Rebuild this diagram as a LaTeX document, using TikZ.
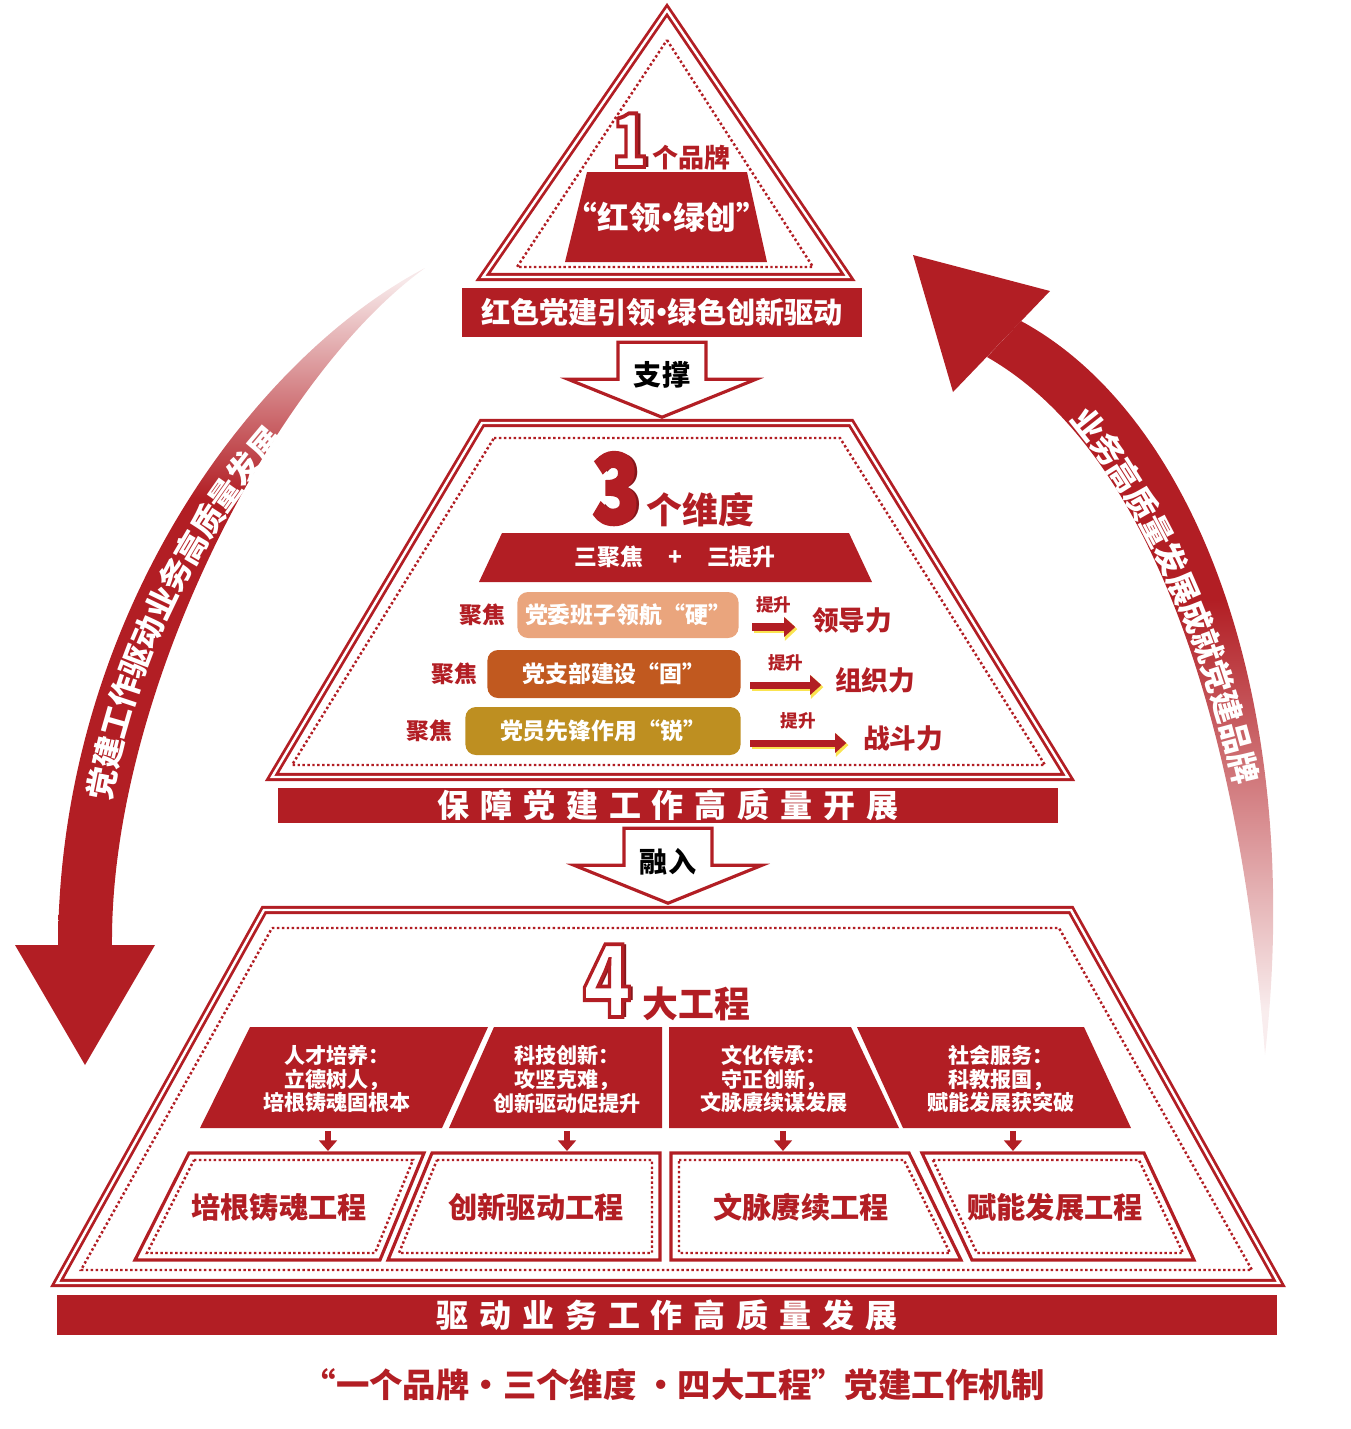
\documentclass[tikz,border=0pt]{standalone}
\usepackage{fontspec}
\setmainfont{Noto Sans CJK SC}
\usetikzlibrary{positioning, calc, arrows.meta, decorations.text}

\definecolor{cred}{RGB}{178,30,36}
\definecolor{peach}{RGB}{234,165,125}
\definecolor{rust}{RGB}{193,89,31}
\definecolor{gold}{RGB}{190,143,33}
\definecolor{glow}{RGB}{250,228,80}

\pgfdeclareverticalshading{fadedown}{100bp}{color(0bp)=(cred); color(58bp)=(cred); color(74bp)=(cred!10); color(100bp)=(cred!10)}
\pgfdeclareverticalshading{fadeup}{100bp}{color(0bp)=(cred!6); color(28bp)=(cred!8); color(56bp)=(cred); color(100bp)=(cred)}

% outlined glyph (fill + red stroke)
\newcommand{\outl}[1]{\special{pdf:literal direct 2 Tr 1.1 w 0.698 0.118 0.141 RG}#1\special{pdf:literal direct 0 Tr 0.398 w}}
% big numeral with a red extrusion: name, base point, digit, size, fill colour
\newcommand{\bignum}[5]{%
  \node[anchor=base, font=\bfseries\fontsize{#4}{#4}\selectfont] (#1) at #2
    {\scalebox{0.8}[1]{\rlap{\kern1.5pt\textcolor{cred!75!black}{#3}}\rlap{\kern0.8pt\textcolor{cred!75!black}{#3}}\textcolor{#5}{\outl{#3}}}};
}
\newcommand{\dotc}{\kern-0.3em·\kern-0.3em}

\begin{document}
\begin{tikzpicture}[x=0.01cm, y=-0.01cm,
  every node/.style={inner sep=0pt, font=\bfseries},
  frameline/.style={draw=cred, double=white, double distance=0.7pt, line width=0.8pt, line join=miter},
  dotline/.style={draw=cred, line width=0.7pt, dash pattern=on 0.7pt off 0.7pt},
  banner/.style={fill=cred, text=white, font=\bfseries\fontsize{8.3}{9}\selectfont},
  spaced/.style={font=\bfseries\fontsize{9.1}{10}\selectfont\addfontfeature{LetterSpace=34}},
  focusbox/.style={rounded corners=3pt, text=white, font=\bfseries\fontsize{6.5}{7}\selectfont, minimum height=0.46cm},
  redtxt/.style={text=cred, font=\bfseries\fontsize{6.5}{7}\selectfont},
  resulttxt/.style={text=cred, font=\bfseries\fontsize{7.6}{8}\selectfont},
  lifttxt/.style={text=cred, font=\bfseries\fontsize{5}{5}\selectfont},
  headtxt/.style={text=cred, font=\bfseries\fontsize{10.2}{11}\selectfont},
  projtxt/.style={text=white, align=center, font=\bfseries\fontsize{6}{6.8}\selectfont},
  worktxt/.style={text=cred, font=\bfseries\fontsize{8.3}{9}\selectfont},
  liftarrow/.style={draw=cred, line width=2pt, -{Triangle[length=3.2pt, width=5.5pt]},
    preaction={draw=glow, line width=2.4pt, transform canvas={shift={(0.6pt,-0.6pt)}}, -{Triangle[length=3.6pt, width=6.5pt]}}},
  droparrow/.style={draw=cred, line width=1.8pt, -{Triangle[length=3pt, width=5pt]}},
  pics/downblock/.style={code={
    \draw[draw=cred, fill=white, line width=0.9pt, line join=miter]
      (-44,5) -- (-44,42) -- (-94,42) -- (0,80) -- (94,42) -- (44,42) -- (44,5) -- cycle;}}]

\useasboundingbox (0,0) rectangle (1350,1429);

% side arcs
\shade[shading=fadedown] (425,268) .. controls (250,360) and (60,620) .. (58,945) -- (112,945) .. controls (110,700) and (270,380) .. (425,268) -- cycle;
\fill[cred] (15,945) -- (155,945) -- (85,1065) -- cycle;
\path[decorate, decoration={text along path, text align=center, raise=-3.2pt, text color=white,
  text={|\bfseries\fontsize{9}{9}\selectfont|党建工作驱动业务高质量发展}}]
  (92,850) .. controls (110,680) and (185,520) .. (310,395);

\shade[shading=fadeup] (1021,321) .. controls (1195,415) and (1305,700) .. (1265,1055) .. controls (1240,720) and (1150,450) .. (987,357) -- cycle;
\fill[cred] (913,255) -- (1050,291) -- (953,392) -- cycle;
\path[decorate, decoration={text along path, text align=center, raise=-3.2pt, text color=white,
  text={|\bfseries\fontsize{9}{9}\selectfont|业务高质量发展成就党建品牌}}]
  (1030,365) .. controls (1115,430) and (1220,610) .. (1260,850);

% 1 brand
\draw[frameline] (667,10) -- (848,277) -- (483,277) -- cycle;
\draw[dotline] (667,40) -- (813,267) -- (517,267) -- cycle;
\fill[cred] (587,172) -- (747,172) -- (767,262) -- (565,262) -- cycle;
\node[text=white, font=\bfseries\fontsize{9}{9}\selectfont] (brand) at (667,217) {“红领\dotc 绿创”};
\bignum{one}{(630,167)}{1}{21}{white}
\node[anchor=base west, text=cred, font=\bfseries\fontsize{7.4}{8}\selectfont] (brandhead) at ($(one.base east)+(3,0)$) {个品牌};
\node[banner, minimum width=4cm, minimum height=0.49cm] (ban1) at (662,312) {红色党建引领\dotc 绿色创新驱动};

\pic at (ban1.south) {downblock};
\node[font=\bfseries\fontsize{8}{8}\selectfont] (support) at ($(ban1.south)+(0,38)$) {支撑};

% 3 dimensions
\draw[frameline] (482,423) -- (851,423) -- (1068,777) -- (272,777) -- cycle;
\draw[dotline] (494,438) -- (840,438) -- (1045,765) -- (292,765) -- cycle;
\bignum{three}{(616,523)}{3}{27}{cred}
\node[headtxt, anchor=base west] (dimhead) at ($(three.base east)+(6,0)$) {个维度};
\fill[cred] (502,533) -- (849,533) -- (872,582) -- (479,582) -- cycle;
\node[text=white, font=\bfseries\fontsize{6.5}{7}\selectfont] (focusbar) at (675,557) {三聚焦\hspace{1.1em}+\hspace{1.1em}三提升};

\node[focusbox, fill=peach, minimum width=2.21cm] (hard) at (628,615) {党委班子领航“硬”};
\node[focusbox, fill=rust, minimum width=2.53cm, minimum height=0.48cm] (firm) at (614,674) {党支部建设“固”};
\node[focusbox, fill=gold, minimum width=2.75cm, minimum height=0.48cm] (sharp) at (603,731) {党员先锋作用“锐”};
\node[redtxt, left=3pt of hard] (focus1) {聚焦};
\node[redtxt, left=2.6pt of firm] (focus2) {聚焦};
\node[redtxt, left=3.4pt of sharp] (focus3) {聚焦};
\node[resulttxt, right=0.72cm of hard, yshift=-1.4pt] (lead) {领导力};
\node[resulttxt, right=0.93cm of firm, yshift=-1.7pt] (org) {组织力};
\node[resulttxt, right=1.21cm of sharp, yshift=-2pt] (fight) {战斗力};
\draw[liftarrow] ($(hard.east)+(13,12)$) -- ($(lead.west |- hard.east)+(-16,12)$) node[lifttxt, midway, above=3pt] {提升};
\draw[liftarrow] ($(firm.east)+(9,11)$) -- ($(org.west |- firm.east)+(-13,11)$) node[lifttxt, midway, above=3pt] {提升};
\draw[liftarrow] ($(sharp.east)+(9,12)$) -- ($(fight.west |- sharp.east)+(-16,12)$) node[lifttxt, midway, above=3pt] {提升};

\node[banner, spaced, minimum width=7.8cm, minimum height=0.35cm] (ban2) at (668,805) {保障党建工作高质量开展};
\pic at (ban2.south) {downblock};
\node[font=\bfseries\fontsize{8}{8}\selectfont] (merge) at ($(ban2.south)+(0,39)$) {融入};

% 4 projects
\draw[frameline] (264,910) -- (1071,910) -- (1279,1283) -- (57,1283) -- cycle;
\draw[dotline] (272,928) -- (1059,928) -- (1252,1270) -- (81,1270) -- cycle;
\bignum{four}{(607,1017)}{4}{28.5}{white}
\node[headtxt, anchor=base west] (projhead) at ($(four.base east)+(10,0)$) {大工程};

\foreach \a/\b/\c/\d in {250/488/442/200, 494/662/662/449, 669/851/899/669, 857/1084/1131/903}
  \fill[cred] (\a,1027) -- (\b,1027) -- (\c,1128) -- (\d,1128) -- cycle;
\node[projtxt] (talent) at (337,1079) {人才培养：\\立德树人，\\培根铸魂固根本};
\node[projtxt] (tech) at (567,1079) {科技创新：\\攻坚克难，\\创新驱动促提升};
\node[projtxt] (culture) at (774,1079) {文化传承：\\守正创新，\\文脉赓续谋发展};
\node[projtxt] (service) at (1001,1079) {社会服务：\\科教报国，\\赋能发展获突破};

\foreach \x [count=\i] in {328,567,783,1013} {
  \coordinate (up\i) at (\x,1131);
  \coordinate (dn\i) at (\x,1151);
  \draw[droparrow] (up\i) -- (dn\i);
}

\foreach \a/\b/\c/\d in {189/424/380/135, 432/660/660/388, 671/909/961/671, 922/1144/1194/972}
  \draw[cred, line width=0.9pt, line join=miter] (\a,1153) -- (\b,1153) -- (\c,1260) -- (\d,1260) -- cycle;
\foreach \a/\b/\c/\d in {194/413/375/147, 437/652/652/399, 679/904/950/679, 933/1139/1183/977}
  \draw[dotline] (\a,1160) -- (\b,1160) -- (\c,1253) -- (\d,1253) -- cycle;
\node[worktxt] (rootp) at (279,1207) {培根铸魂工程};
\node[worktxt] (innop) at (536,1207) {创新驱动工程};
\node[worktxt] (contp) at (801,1207) {文脉赓续工程};
\node[worktxt] (empp) at (1055,1207) {赋能发展工程};

\node[banner, spaced, minimum width=12.2cm, minimum height=0.4cm] (ban3) at (667,1315) {驱动业务工作高质量发展};

\node[text=cred, font=\bfseries\fontsize{9.5}{10}\selectfont] (title) at (674,1385) {“一个品牌・三个维度\ ・四大工程”党建工作机制};
\end{tikzpicture}
\end{document}
